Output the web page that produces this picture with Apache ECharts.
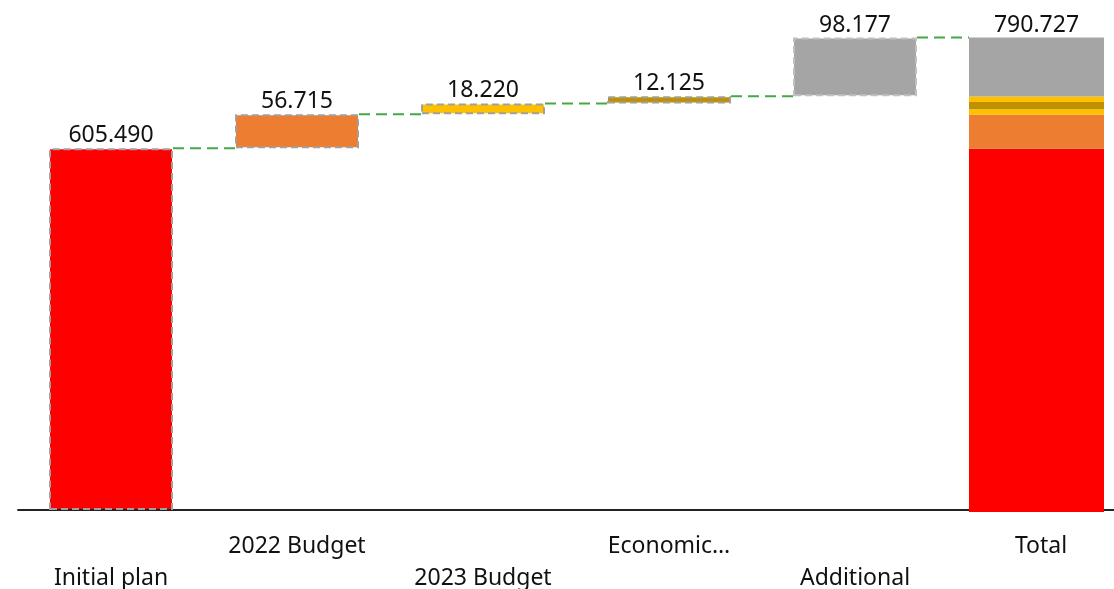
<!DOCTYPE html>
<html>
<head>
<meta charset="utf-8">
<title>Budget waterfall</title>
<script src="https://cdn.jsdelivr.net/npm/echarts@6/dist/echarts.min.js"></script>
<style>
  html, body { margin: 0; padding: 0; background: #ffffff; }
  #chart { width: 1114px; height: 589px; }
</style>
</head>
<body>
<div id="chart"></div>
<script>
// Waterfall steps and their contributions
const categories = ['Initial plan', '2022 Budget', '2023 Budget', 'Economic…', 'Additional', 'Total'];
const steps = [605.490, 56.715, 18.220, 12.125, 98.177];
const stepColors = ['#ff0000', '#ed7d31', '#ffc000', '#bf9000', '#a5a5a5'];

// Running totals: the invisible base of each floating bar and the level after it
const bases = [];
const levels = [];
let running = 0;
steps.forEach(function (v) { bases.push(running); running += v; levels.push(running); });
const total = running;

const FONT = 'Noto Sans';
const BAR_W = 124;
const TOTAL_W = 135;
const TOTAL_SHIFT = -4.5;   // the total column sits slightly left of its slot
const dash = { type: [7, 4], width: 2 };

const fmt = function (v) { return Number(v).toFixed(3); };
const pad = function (v) { return categories.map(function (_, i) { return i === 5 ? v : '-'; }); };

// Base (transparent) and step series for the floating bars
const baseData = bases.map(function (b) { return b; }).concat(['-']);
const stepData = steps.map(function (v, i) {
  return {
    value: v,
    itemStyle: {
      color: stepColors[i],
      borderColor: i === 4 ? '#c0c0c0' : '#a0a0a0',
      borderWidth: dash.width,
      borderType: dash.type
    }
  };
}).concat(['-']);

// Total column: contributions stacked, the 2023 part split round the economic part
const totalParts = [
  { v: steps[0], c: stepColors[0] },
  { v: steps[1], c: stepColors[1] },
  { v: steps[2] / 2, c: stepColors[2] },
  { v: steps[3], c: stepColors[3] },
  { v: steps[2] / 2, c: stepColors[2] },
  { v: steps[4], c: stepColors[4] }
];
const totalSeries = totalParts.map(function (p, k) {
  const last = k === totalParts.length - 1;
  return {
    type: 'bar',
    xAxisIndex: 1, yAxisIndex: 1,
    stack: 'total',
    barWidth: TOTAL_W,
    silent: true,
    itemStyle: { color: p.c },
    label: last ? {
      show: true, position: 'top', distance: 1,
      fontFamily: FONT, fontSize: 23, color: '#111',
      formatter: function () { return fmt(total); }
    } : { show: false },
    data: pad(p.v)
  };
});

// Dashed connectors between the tops of consecutive bars
const connectorData = levels.map(function (lv, i) { return [i, lv]; });

const chart = echarts.init(document.getElementById('chart'), null, { renderer: 'canvas' });
chart.setOption({
  animation: false,
  backgroundColor: '#ffffff',
  grid: [
    { left: 18, width: 1116, top: 32, bottom: 79, outerBoundsMode: 'none', containLabel: false },
    { left: 18 + TOTAL_SHIFT, width: 1116, top: 32, bottom: 77, outerBoundsMode: 'none', containLabel: false }
  ],
  xAxis: [
    {
      type: 'category', gridIndex: 0, data: categories,
      axisLine: { lineStyle: { color: '#222', width: 1.8 } },
      axisTick: { show: false },
      axisLabel: {
        interval: 0, margin: 20,
        fontFamily: FONT, fontSize: 23, color: '#111', lineHeight: 32,
        formatter: function (v, i) { return i % 2 === 0 ? '\n' + v : v; }
      }
    },
    {
      type: 'category', gridIndex: 1, data: categories,
      axisLine: { show: false }, axisTick: { show: false }, axisLabel: { show: false }
    }
  ],
  yAxis: [
    { type: 'value', gridIndex: 0, min: 0, max: 800, show: false, splitLine: { show: false } },
    { type: 'value', gridIndex: 1, min: 0, max: 800, show: false, splitLine: { show: false } }
  ],
  series: [
    {
      type: 'bar', stack: 'flow', barWidth: BAR_W, silent: true,
      itemStyle: { color: 'transparent' },
      data: baseData
    },
    {
      type: 'bar', stack: 'flow', barWidth: BAR_W, silent: true,
      label: {
        show: true, position: 'top', distance: 1,
        fontFamily: FONT, fontSize: 23, color: '#111',
        formatter: function (p) { return fmt(p.value); }
      },
      data: stepData
    }
  ].concat(totalSeries).concat([
    {
      type: 'custom',
      silent: true,
      z: 5,
      renderItem: function (params, api) {
        const i = api.value(0);
        const v = api.value(1);
        const p = api.coord([i, v]);
        const x1 = p[0] + BAR_W / 2;
        let x2;
        if (i < 4) {
          x2 = api.coord([i + 1, v])[0] - BAR_W / 2;
        } else {
          x2 = api.coord([i + 1, v])[0] + TOTAL_SHIFT - TOTAL_W / 2;
        }
        return {
          type: 'line',
          shape: { x1: x1, y1: p[1], x2: x2, y2: p[1] },
          style: { stroke: '#44a844', lineWidth: 2, lineDash: [11, 6] }
        };
      },
      data: connectorData
    }
  ])
});
</script>
</body>
</html>
